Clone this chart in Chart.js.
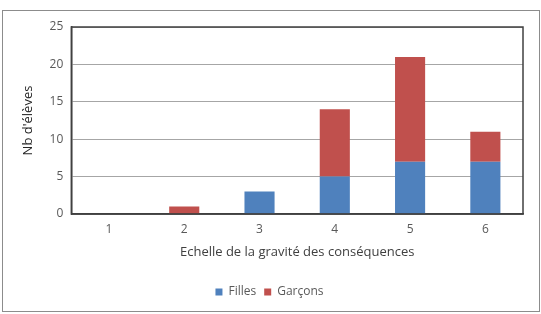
<!DOCTYPE html>
<html>
<head>
<meta charset="utf-8">
<script src="https://cdn.jsdelivr.net/npm/chart.js@4/dist/chart.umd.min.js"></script>
<style>
  html, body { margin: 0; padding: 0; background: #fff; }
  #wrap { width: 541px; height: 314px; position: relative; }
</style>
</head>
<body>
<div id="wrap"><canvas id="chart"></canvas></div>
<script>
const categories = ["1", "2", "3", "4", "5", "6"];
const filles = [0, 0, 3, 5, 7, 7];
const garcons = [0, 1, 0, 9, 14, 4];

const FONT = "'Open Sans', sans-serif";

// cadre extérieur + bordure de la zone de tracé
const framePlugin = {
  id: "frame",
  beforeDraw(chart) {
    const { ctx } = chart;
    ctx.save();
    ctx.strokeStyle = "#8c8c8c";
    ctx.lineWidth = 1;
    ctx.strokeRect(2.5, 10.5, 537, 301);
    ctx.restore();
  },
  afterDraw(chart) {
    const { ctx, chartArea: a } = chart;
    ctx.save();
    ctx.strokeStyle = "#404040";
    ctx.lineWidth = 1.5;
    ctx.strokeRect(a.left, a.top, a.right - a.left, a.bottom - a.top);
    ctx.restore();
  },
};

new Chart(document.getElementById("chart"), {
  type: "bar",
  data: {
    labels: categories,
    datasets: [
      { label: "Filles", data: filles, backgroundColor: "#4f81bd", barPercentage: 0.4, categoryPercentage: 1 },
      { label: "Garçons", data: garcons, backgroundColor: "#c0504d", barPercentage: 0.4, categoryPercentage: 1 },
    ],
  },
  options: {
    responsive: true,
    maintainAspectRatio: false,
    animation: false,
    layout: { padding: { top: 27, right: 18, left: 16, bottom: 6 } },
    plugins: {
      legend: {
        position: "bottom",
        labels: {
          boxWidth: 7,
          boxHeight: 7,
          color: "#595959",
          font: { family: FONT, size: 12 },
          padding: 8,
        },
      },
      tooltip: { enabled: false },
    },
    scales: {
      x: {
        stacked: true,
        grid: { display: false },
        border: { color: "#404040", width: 1.5 },
        ticks: { color: "#595959", font: { family: FONT, size: 12 }, padding: 0 },
        title: {
          display: true,
          text: "Echelle de la gravité des conséquences",
          color: "#404040",
          font: { family: FONT, size: 13 },
          padding: { top: 8, bottom: 18 },
        },
      },
      y: {
        stacked: true,
        min: 0,
        max: 25,
        ticks: { stepSize: 5, color: "#595959", font: { family: FONT, size: 12 }, padding: 8 },
        grid: { color: "#a6a6a6", drawTicks: false },
        border: { color: "#404040", width: 1.5 },
        title: {
          display: true,
          text: "Nb d'élèves",
          color: "#262626",
          font: { family: FONT, size: 13 },
          padding: { bottom: 6 },
        },
      },
    },
  },
  plugins: [framePlugin],
});
</script>
</body>
</html>
